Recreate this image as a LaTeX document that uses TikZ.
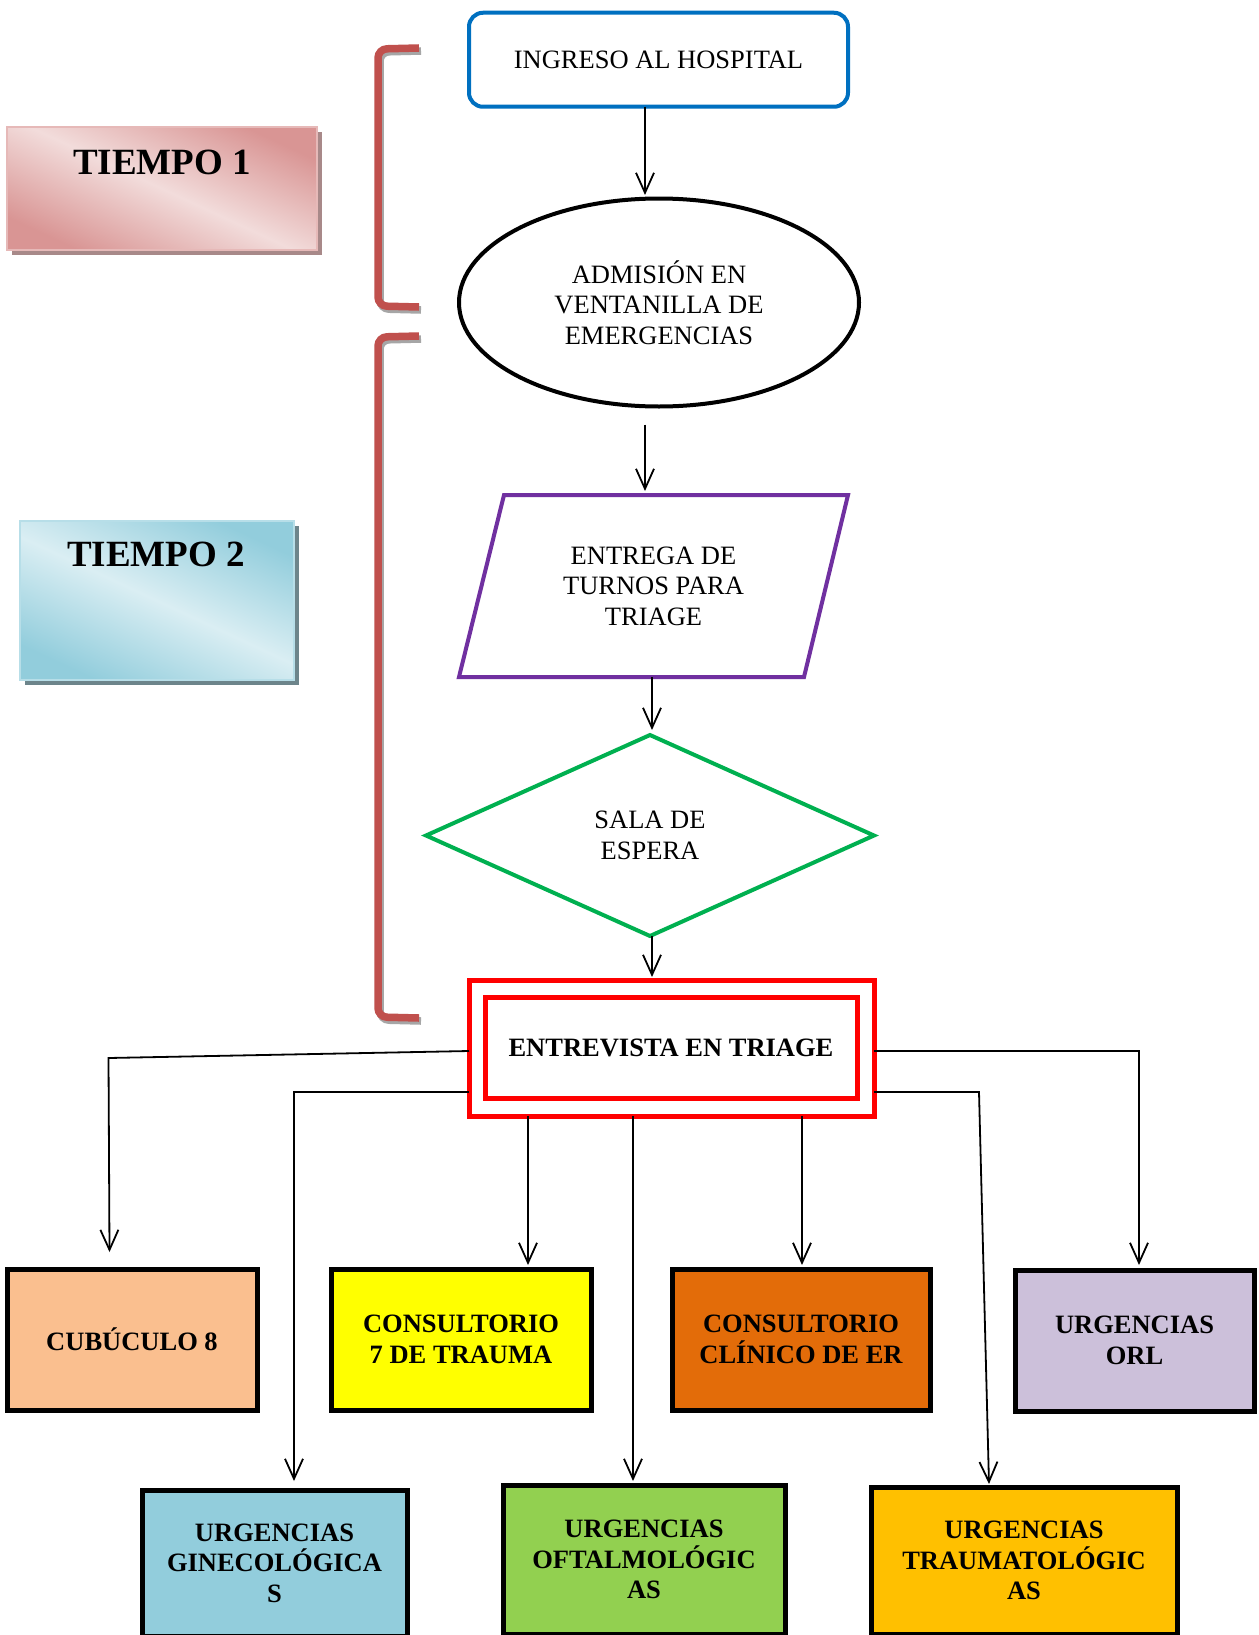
\documentclass[tikz,border=0pt]{standalone}
\usepackage{fontspec}
\setmainfont{Liberation Serif}
\usetikzlibrary{shapes.geometric,arrows.meta,shadows}
\definecolor{bluebox}{RGB}{0,112,192}
\definecolor{purplebox}{RGB}{112,48,160}
\definecolor{greenbox}{RGB}{0,176,80}
\definecolor{brk}{RGB}{192,80,77}
\definecolor{pinkdark}{RGB}{217,149,148}
\definecolor{pinklight}{RGB}{242,220,219}
\definecolor{pinkedge}{RGB}{230,185,184}
\definecolor{bluedark}{RGB}{146,205,220}
\definecolor{bluelight}{RGB}{218,238,243}
\definecolor{blueedge}{RGB}{183,222,232}
\definecolor{cpeach}{RGB}{250,191,143}
\definecolor{cyellow}{RGB}{255,255,0}
\definecolor{corange}{RGB}{227,108,9}
\definecolor{clav}{RGB}{204,192,218}
\definecolor{clblue}{RGB}{146,205,220}
\definecolor{cgreen}{RGB}{146,208,80}
\definecolor{cgold}{RGB}{255,192,0}
\begin{document}
\begin{tikzpicture}[x=1pt,y=-1pt,
  every node/.style={font=\fontsize{26.5}{30.5}\selectfont, align=center, inner sep=0pt, outer sep=0pt},
  arr/.style={line width=1.8pt, -{Straight Barb[length=20pt,width=18pt,line width=1.8pt]}},
  bracket/.style={draw=brk, line width=7.5pt, rounded corners=9pt},
  bracketshadow/.style={draw=gray!70, line width=7.5pt, rounded corners=9pt},
  tbox/.style={draw, line width=2pt, anchor=north west},
  ttext/.style={font=\fontsize{37}{40}\selectfont\bfseries},
  obox/.style={draw=black, line width=5pt, font=\fontsize{26.5}{30.5}\selectfont\bfseries, anchor=north west},
]
\clip (0,0) rectangle (1258,1635);
\fill[white] (0,0) rectangle (1258,1635);

% TIEMPO boxes
\fill[gray!55!pinkdark] (12,132) rectangle (322,255);
\node[tbox, draw=pinkedge, minimum width=310pt, minimum height=123pt,
  top color=pinkdark, bottom color=pinkdark, middle color=pinklight, shading angle=-25] (tiempoA) at (7,127) {};
\node[ttext] (tiempoAtxt) at (162,162) {TIEMPO 1};

\fill[gray!50!bluedark!80!black] (25,526) rectangle (299,685);
\node[tbox, draw=blueedge, minimum width=274pt, minimum height=159pt,
  top color=bluedark, bottom color=bluedark, middle color=bluelight, shading angle=-25] (tiempoB) at (20,521) {};
\node[ttext] (tiempoBtxt) at (156,554) {TIEMPO 2};

% brackets
\draw[bracketshadow] (421,51) -- (380,52) -- (380,309) -- (421,310);
\draw[bracket] (419,48) -- (378,49) -- (378,306) -- (419,307);
\draw[bracketshadow] (421,339) -- (380,340) -- (380,1020) -- (421,1021);
\draw[bracket] (419,336) -- (378,337) -- (378,1017) -- (419,1018);

% main flow
\node[draw=bluebox, line width=4pt, rounded corners=14pt, minimum width=379pt, minimum height=94pt] (ingreso) at (658.5,59.75) {INGRESO AL HOSPITAL};
\node[draw=black, line width=4pt, ellipse, minimum width=400pt, minimum height=208pt] (admision) at (659,302.5) {ADMISIÓN EN\\VENTANILLA DE\\EMERGENCIAS};
\draw[draw=purplebox, line width=4pt, line join=miter] (459,677) -- (504,495) -- (848,495) -- (804,677) -- cycle;
\node[minimum width=300pt, minimum height=182pt] (entrega) at (653.5,586) {ENTREGA DE\\TURNOS PARA\\TRIAGE};
\node[draw=greenbox, line width=4pt, diamond, aspect=2.2, minimum width=448pt, minimum height=201pt] (sala) at (650,835.5) {SALA DE\\ESPERA};
\node[draw=red, line width=5pt, minimum width=405pt, minimum height=136pt] (triage) at (671.5,1048) {};
\node[draw=red, line width=5pt, minimum width=372pt, minimum height=101pt, font=\fontsize{26.5}{30.5}\selectfont\bfseries] (triageIn) at (671,1047.5) {ENTREVISTA EN TRIAGE};

\coordinate (t1) at (645,195);
\coordinate (t2) at (645,491);
\coordinate (t3) at (652,730);
\coordinate (t4) at (652,977);
\draw[arr] (ingreso.south -| t1) -- (t1);
\draw[arr, shorten <=18pt] (admision.south -| t2) -- (t2);
\draw[arr] (entrega.south -| t3) -- (t3);
\draw[arr] (sala.south -| t4) -- (t4);

% destination boxes
\node[obox, fill=cpeach, minimum width=250pt, minimum height=141pt] (cub) at (7,1269) {CUBÚCULO 8};
\node[obox, fill=cyellow, minimum width=260pt, minimum height=141pt] (cons7) at (331,1269) {CONSULTORIO\\7 DE TRAUMA};
\node[obox, fill=corange, minimum width=258pt, minimum height=141pt] (consER) at (672,1269) {CONSULTORIO\\CLÍNICO DE ER};
\node[obox, fill=clav, minimum width=239pt, minimum height=141pt] (orl) at (1015,1270) {URGENCIAS\\ORL};
\node[obox, fill=clblue, minimum width=265pt, minimum height=146pt] (gine) at (142,1490) {URGENCIAS\\GINECOLÓGICA\\S};
\node[obox, fill=cgreen, minimum width=282pt, minimum height=149pt] (oftal) at (503,1485) {URGENCIAS\\OFTALMOLÓGIC\\AS};
\node[obox, fill=cgold, minimum width=306pt, minimum height=147pt] (traum) at (871,1487) {URGENCIAS\\TRAUMATOLÓGIC\\AS};

% connectors from triage
\coordinate (la) at (108.5,1058);
\coordinate (lb) at (109.5,1252);
\draw[arr] ([yshift=-3pt]triage.west) -- (la) -- (lb);
\coordinate (ga) at (294,1092);
\coordinate (gb) at (294,1481);
\draw[arr] ([yshift=-44pt]triage.west) -- (ga) -- (gb);
\coordinate (c7a) at (528,1265);
\draw[arr] (triage.south -| c7a) -- (c7a);
\coordinate (oa) at (633,1481);
\draw[arr] (triage.south -| oa) -- (oa);
\coordinate (ea) at (802,1265);
\draw[arr] (triage.south -| ea) -- (ea);
\coordinate (qa) at (979,1092);
\coordinate (qb) at (989,1484);
\draw[arr] ([yshift=-44pt]triage.east) -- (qa) -- (qb);
\coordinate (ra) at (1139,1051);
\coordinate (rb) at (1139,1265);
\draw[arr] ([yshift=-3pt]triage.east) -- (ra) -- (rb);
\end{tikzpicture}
\end{document}
